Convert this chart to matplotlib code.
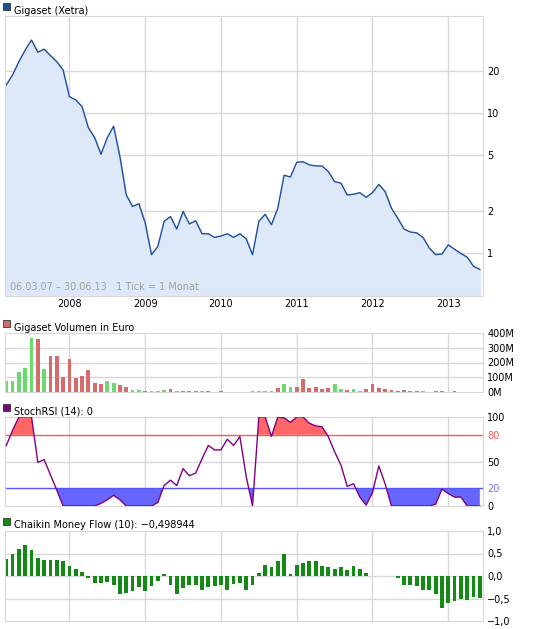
import numpy as np
import matplotlib
matplotlib.use("Agg")
import matplotlib.pyplot as plt
from matplotlib.patches import Rectangle

# monthly data, index 0 = Mar 2007 ... 75 = Jun 2013
price = [16, 18.9, 23.5, 28.5, 33.6, 27.5, 28.9, 26, 23.5, 20.5,
         13.2, 12.5, 11.2, 7.9, 6.7, 5.1, 6.7, 8.1, 4.9, 2.6,
         2.15, 2.25, 1.64, 0.97, 1.11, 1.68, 1.82, 1.48, 1.98, 1.61,
         1.70, 1.37, 1.37, 1.29, 1.32, 1.37, 1.29, 1.37, 1.26, 0.97,
         1.68, 1.89, 1.59, 2.09, 3.6, 3.5, 4.46, 4.5, 4.28, 4.2,
         4.2, 3.83, 3.24, 3.16, 2.6, 2.63, 2.7, 2.5, 2.7, 3.1,
         2.75, 2.09, 1.77, 1.48, 1.41, 1.39, 1.29, 1.08, 0.97, 0.98,
         1.14, 1.06, 0.99, 0.93, 0.80, 0.76]

volume = [73, 73, 135, 160, 369, 360, 156, 245, 245, 101,
          224, 94, 108, 149, 60, 55, 73, 60, 46, 32,
          14, 11, 7, 7, 7, 11, 18, 7, 6, 6,
          6, 6, 6, 0, 5, 0, 0, 0, 0, 4,
          4, 4, 10, 25, 53, 32, 32, 87, 25, 32,
          18, 25, 53, 18, 11, 18, 7, 18, 53, 25,
          18, 11, 7, 11, 7, 5, 5, 0, 4, 4,
          0, 4, 0, 0, 0, 0]
vol_up = "GGGGGRGRRRRRRRRRGGRRGGRGGGRGRRRGRRRRRGGGGGGRGGRRRRRRGGRGGRRRRRRRRRGGRRRRRR"
vol_up = vol_up + "RR"

stoch = [68, 85, 100, 100, 100, 49, 52, 35, 18, 0,
         0, 0, 0, 0, 0, 3, 7, 12, 7, 0,
         0, 0, 0, 0, 4, 23, 29, 23, 42, 34,
         37, 53, 68, 63, 63, 75, 68, 78, 33, 0,
         100, 100, 78, 100, 99, 94, 100, 100, 93, 90,
         89, 78, 61, 46, 22, 25, 10, 1, 15, 45,
         25, 0, 0, 0, 0, 0, 0, 0, 2, 19,
         14, 10, 10, 0, 0, 0]

cmf = [0.37, 0.50, 0.61, 0.68, 0.57, 0.41, 0.36, 0.35, 0.35, 0.33,
       0.22, 0.15, 0.10, -0.05, -0.15, -0.16, -0.13, -0.19, -0.41, -0.38,
       -0.33, -0.25, -0.33, -0.23, -0.11, 0.05, -0.19, -0.41, -0.27, -0.21,
       -0.19, -0.30, -0.25, -0.22, -0.21, -0.30, -0.17, -0.16, -0.32, -0.19,
       0.07, 0.24, 0.19, 0.33, 0.50, 0.05, 0.24, 0.28, 0.33, 0.33,
       0.22, 0.19, 0.15, 0.19, 0.13, 0.22, 0.15, 0.07, 0.01, 0.01,
       0.01, -0.01, -0.04, -0.21, -0.21, -0.23, -0.30, -0.30, -0.41, -0.71,
       -0.60, -0.56, -0.52, -0.53, -0.47, -0.48]

years = ["2008", "2009", "2010", "2011", "2012", "2013"]
year_idx = [10, 22, 34, 46, 58, 70]

x = np.arange(len(price))
W, H = 545, 629
FS = 7
GRID = "#d8d8d8"

fig = plt.figure(figsize=(W / 100, H / 100), dpi=100)


def make_ax(top, bottom, title, sq_color):
    ax = fig.add_axes([5 / W, 1 - bottom / H, 478 / W, (bottom - top) / H])
    ax.set_xlim(-0.2, 75.5)
    for s in ax.spines.values():
        s.set_color(GRID)
    ax.yaxis.tick_right()
    ax.tick_params(axis="y", length=0, labelsize=FS, pad=3)
    ax.tick_params(axis="x", length=0, labelsize=FS, pad=2)
    ax.set_xticks(year_idx)
    ax.set_xticklabels([])
    for xi in year_idx:
        ax.axvline(xi, color=GRID, lw=1, zorder=0)
    fig.patches.append(Rectangle((3 / W, 1 - (top - 6) / H), 7 / W, 7 / H,
                                 transform=fig.transFigure, facecolor=sq_color,
                                 edgecolor="#333333", lw=0.6))
    fig.text(14 / W, 1 - (top - 2.5) / H, title, fontsize=FS, va="baseline")
    return ax


# price
ax = make_ax(16, 296, "Gigaset (Xetra)", "#1f4e9c")
ax.set_yscale("log")
ax.set_ylim(0.49, 50)
ax.fill_between(x, 0.01, price, color="#dde9f8", zorder=1)
ax.plot(x, price, color="#1f4e9c", lw=1, zorder=2)
ax.set_yticks([1, 2, 5, 10, 20])
ax.set_yticklabels(["1", "2", "5", "10", "20"])
ax.yaxis.set_minor_locator(matplotlib.ticker.NullLocator())
for v in [1, 2, 5, 10, 20]:
    ax.axhline(v, color=GRID, lw=1, zorder=0)
ax.set_xticklabels(years)
ax.text(0.01, 0.015, "06.03.07 \u2013 30.06.13   1 Tick = 1 Monat", transform=ax.transAxes,
        fontsize=FS, color="#a0a0a0", va="bottom")

# volume
ax = make_ax(333, 392, "Gigaset Volumen in Euro", "#d96a6a")
cols = ["#6cd96c" if c == "G" else "#d96a6a" for c in vol_up]
ax.bar(x, volume, width=0.6, color=cols, zorder=2)
ax.set_ylim(0, 400)
ax.set_yticks([0, 100, 200, 300, 400])
ax.set_yticklabels(["0M", "100M", "200M", "300M", "400M"])
for v in [100, 200, 300]:
    ax.axhline(v, color=GRID, lw=1, zorder=0)

# stoch rsi
ax = make_ax(417, 506, "StochRSI (14): 0", "#800080")
st = np.array(stoch, dtype=float)
ax.fill_between(x, 80, st, where=st > 80, interpolate=True, color="#ff6666", lw=0, zorder=1)
ax.fill_between(x, 20, st, where=st < 20, interpolate=True, color="#6666ff", lw=0, zorder=1)
ax.plot(x, st, color="#800080", lw=1, zorder=3)
ax.axhline(80, color="#ff5555", lw=1, zorder=2)
ax.axhline(20, color="#5555ff", lw=1, zorder=2)
ax.axhline(50, color=GRID, lw=1, zorder=0)
ax.set_ylim(0, 100)
ax.set_yticks([0, 20, 50, 80, 100])
ax.set_yticklabels(["0", "20", "50", "80", "100"])
ax.get_yticklabels()[1].set_color("#7777ff")
ax.get_yticklabels()[3].set_color("#ff5555")

# chaikin money flow
ax = make_ax(531, 621, "Chaikin Money Flow (10): \u22120,498944", "#138a13")
ax.bar(x, cmf, width=0.6, color="#138a13", zorder=2)
ax.set_ylim(-1, 1)
ax.set_yticks([-1, -0.5, 0, 0.5, 1])
ax.set_yticklabels(["\u22121,0", "\u22120,5", "0,0", "0,5", "1,0"])
for v in [-0.5, 0, 0.5]:
    ax.axhline(v, color=GRID, lw=1, zorder=0)

fig.savefig("out.png", dpi=100)
